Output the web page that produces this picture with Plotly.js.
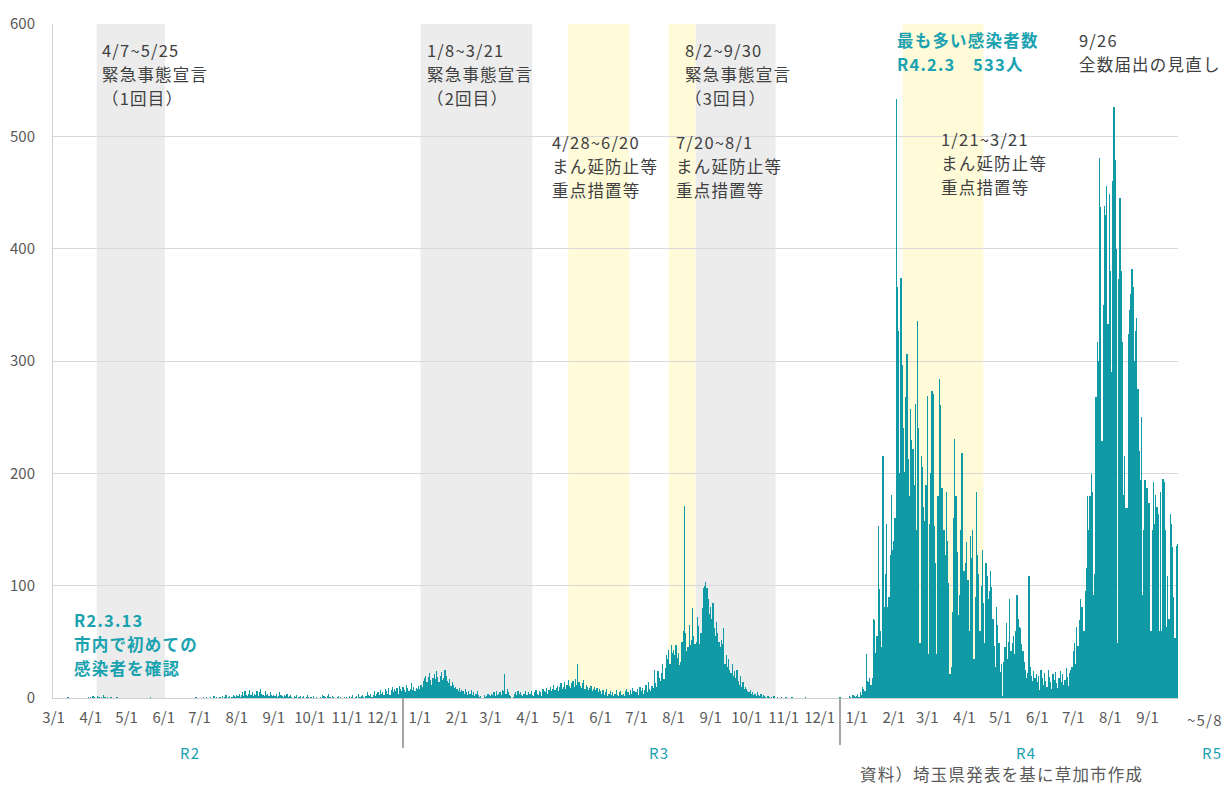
<!DOCTYPE html>
<html>
<head>
<meta charset="utf-8">
<script src="https://cdn.plot.ly/plotly-3.0.1.min.js"></script>
<style>
  html, body { margin: 0; padding: 0; background: #ffffff; }
  #chart { width: 1229px; height: 787px; }
  .annotation-text { letter-spacing: 1.2px; }
</style>
</head>
<body>
<div id="chart"></div>
<script>
// ---- daily new cases, one array per month ----
const m2020_03 = [0,0,0,0,0,0,0,0,0,0, 0,0,1,0,0,0,0,0,0,0, 0,0,0,0,0,0,0,0,0,1, 0];
const m2020_04 = [1,0,2,1,0,0,2,1,0,1, 0,3,1,0,1,0,0,1,0,0, 0,0,1,0,0,0,0,0,0,0];
const m2020_05 = [0,0,0,0,0,0,0,0,0,0, 0,0,0,0,0,0,0,0,0,0, 1,0,0,0,0,0,0,0,0,0, 0];
const m2020_06 = [0,0,0,0,0,0,0,0,0,0, 0,0,0,0,0,0,0,0,0,0, 0,0,0,0,0,0,0,1,0,0];
const m2020_07 = [0,0,0,1,0,0,1,0,0,1, 0,0,2,0,1,0,0,1,0,2, 0,1,3,0,1,2,0,1,3,2, 1];
const m2020_08 = [3,2,4,1,3,5,2,6,3,2, 4,7,3,5,2,4,3,6,2,5, 8,4,3,2,6,3,4,2,5,3, 2];
const m2020_09 = [3,2,4,1,2,5,3,2,1,3, 2,4,1,2,3,1,0,2,1,3, 0,1,2,0,1,2,0,1,3,1];
const m2020_10 = [0,1,0,2,0,0,1,0,0,1, 0,3,2,1,0,2,4,1,0,2, 1,0,0,1,2,0,1,0,0,1, 0];
const m2020_11 = [1,0,2,0,1,3,0,1,2,0, 4,1,2,3,1,0,2,5,3,2, 4,1,3,6,2,4,5,3,7,4];
const m2020_12 = [5,3,8,6,4,9,3,7,10,5, 8,6,9,4,11,8,6,10,7,5, 12,9,6,8,13,7,10,6,9,8, 11];
const m2021_01 = [8,12,10,15,18,20,14,19,22,16, 12,18,21,17,24,19,14,20,23,16, 18,25,20,15,13,17,11,14,12,9, 10];
const m2021_02 = [8,6,9,5,7,6,4,8,5,3, 6,4,7,3,5,2,4,6,3,1, 2,0,0,3,1,2,4,3];
const m2021_03 = [2,4,3,5,2,6,3,4,5,3, 7,6,21,4,8,5,3,2,0,1, 4,5,3,6,4,5,3,2,4,6, 3];
const m2021_04 = [3,5,4,6,3,2,5,7,4,3, 6,5,2,8,6,5,9,4,7,10, 6,8,12,7,9,11,6,10,13,8];
const m2021_05 = [10,14,8,12,16,11,9,13,15,10, 17,12,30,14,11,9,13,16,8,12, 10,7,9,11,6,8,10,7,9,5, 8];
const m2021_06 = [6,4,7,3,5,8,2,4,6,3, 5,2,4,7,3,2,5,6,3,4, 2,6,8,5,3,7,4,9,6,5];
const m2021_07 = [5,8,3,10,6,9,4,7,12,5, 14,8,6,11,9,25,13,10,24,18, 15,22,30,17,27,38,35,43,30,47, 40];
const m2021_08 = [43,38,47,36,40,29,32,50,60,171, 58,42,45,65,47,52,80,55,48,50, 72,64,48,58,80,98,100,103,98,88, 75];
const m2021_09 = [81,70,85,62,55,68,58,50,45,52, 48,62,30,38,28,35,25,22,30,20, 24,18,25,15,12,20,10,14,8,10];
const m2021_10 = [8,6,5,7,4,5,3,4,2,5, 3,2,4,1,3,2,1,0,2,1, 0,1,0,2,0,0,1,0,0,1, 0];
const m2021_11 = [0,0,1,0,0,0,0,1,0,0, 0,0,0,0,0,0,0,0,1,0, 0,0,0,0,0,0,0,0,0,0];
const m2021_12 = [0,0,0,0,0,0,0,0,0,0, 0,0,0,0,0,0,0,1,0,0, 0,0,0,0,0,2,1,0,3,2, 1];
const m2022_01 = [2,4,1,5,3,10,8,6,39,15, 14,18,12,18,70,69,40,55,153,97, 60,45,215,81,110,155,81,90,127,181, 132];
const m2022_02 = [140,160,533,366,327,200,374,296,240,201, 268,306,213,180,257,230,222,190,262,150, 336,240,49,215,206,170,158,190];
const m2022_03 = [269,39,155,200,273,271,153,120,39,180, 284,261,187,187,150,127,183,140,102,21, 28,77,160,231,180,130,74,92,150,218, 113];
const m2022_04 = [113,120,139,105,60,144,125,150,35,90, 183,127,110,60,100,132,85,49,120,109, 88,95,113,99,70,46,28,81,65,49];
const m2022_05 = [23,30,2,32,45,67,35,50,88,42, 49,55,39,60,92,70,63,62,48,42, 32,25,18,22,109,28,20,15,24,18, 21];
const m2022_06 = [14,20,7,25,18,12,22,15,10,25, 19,14,8,21,16,23,13,9,18,24, 14,21,12,16,27,19,11,22,25,28];
const m2022_07 = [42,49,30,63,46,69,88,81,81,60, 95,116,180,150,180,199,183,92,110,268, 317,300,481,437,229,350,438,430,456,333, 449];
const m2022_08 = [380,290,460,526,479,400,49,373,445,380, 317,181,215,169,169,324,345,360,382,366, 300,327,338,275,220,194,250,92,150,194, 187];
const m2022_09 = [187,174,174,60,150,192,155,181,170,164, 60,183,60,195,192,150,63,109,70,164, 155,134,90,53,135,137];

const monthKeys = ['2020-03','2020-04','2020-05','2020-06','2020-07','2020-08','2020-09','2020-10','2020-11','2020-12',
  '2021-01','2021-02','2021-03','2021-04','2021-05','2021-06','2021-07','2021-08','2021-09','2021-10','2021-11','2021-12',
  '2022-01','2022-02','2022-03','2022-04','2022-05','2022-06','2022-07','2022-08','2022-09'];
const monthValues = [m2020_03,m2020_04,m2020_05,m2020_06,m2020_07,m2020_08,m2020_09,m2020_10,m2020_11,m2020_12,
  m2021_01,m2021_02,m2021_03,m2021_04,m2021_05,m2021_06,m2021_07,m2021_08,m2021_09,m2021_10,m2021_11,m2021_12,
  m2022_01,m2022_02,m2022_03,m2022_04,m2022_05,m2022_06,m2022_07,m2022_08,m2022_09];

// ---- x tick labels ----
const tickDates = monthKeys.map(k => k + '-01');
const tickText = ['3/1','4/1','5/1','6/1','7/1','8/1','9/1','10/1','11/1','12/1',
  '1/1','2/1','3/1','4/1','5/1','6/1','7/1','8/1','9/1','10/1','11/1','12/1',
  '1/1','2/1','3/1','4/1','5/1','6/1','7/1','8/1','9/1'];

// ---- shaded periods (as drawn in the picture) ----
const grayPeriods = [['2020-04-06','2020-06-02'], ['2021-01-01 14:00','2021-04-05'], ['2021-08-19 08:00','2021-10-25 05:00']];
const yellowPeriods = [['2021-05-05','2021-06-25'], ['2021-07-27 19:00','2021-08-19 08:00'], ['2022-02-08 08:00','2022-04-17']];

// ---- build daily series ----
const dates = [], cases = [];
monthKeys.forEach((k, i) => {
  monthValues[i].forEach((v, d) => {
    dates.push(k + '-' + String(d + 1).padStart(2, '0'));
    cases.push(v);
  });
});

const TEAL = '#109aa6';
const TEXT_TEAL = '#1aa2b0';
const DARK = '#404040';
const GREY = '#595959';
const FONT = '"Noto Sans CJK JP", "Noto Sans", sans-serif';

// pixel helpers for annotation placement (plot area 53..1178 x 24..698)
const px = x => (x - 53) / 1125;
const py = y => (698 - y) / 674;

const shapes = [];
grayPeriods.forEach(p => shapes.push({type:'rect', xref:'x', yref:'paper', x0:p[0], x1:p[1], y0:0, y1:1,
  fillcolor:'#ececec', line:{width:0}, layer:'below'}));
yellowPeriods.forEach(p => shapes.push({type:'rect', xref:'x', yref:'paper', x0:p[0], x1:p[1], y0:0, y1:1,
  fillcolor:'#fffbd9', line:{width:0}, layer:'below'}));
shapes.push({type:'line', xref:'paper', yref:'paper', x0:px(403), x1:px(403), y0:0, y1:py(748), line:{color:'#a6a6a6', width:2}});
shapes.push({type:'line', xref:'paper', yref:'paper', x0:px(840), x1:px(840), y0:0, y1:py(745), line:{color:'#a6a6a6', width:2}});

function note(text, x, y, color, size, bold, anchor) {
  return {text: bold ? '<b>' + text + '</b>' : text, xref:'paper', yref:'paper', x:px(x), y:py(y),
    xanchor: anchor || 'left', yanchor:'middle', align:'left', showarrow:false,
    font:{family:FONT, size:size, color:color}};
}
// multi-line block: one annotation per line, 24 px apart, centred on y
function block(lines, x, yc, color, bold) {
  const n = lines.length;
  return lines.map((t, i) => note(t, x, yc + (i - (n - 1) / 2) * 24, color, 16.5, bold));
}

const annotations = [].concat(
  block(['4/7~5/25', '緊急事態宣言', '（1回目）'], 100, 74, DARK),
  block(['1/8~3/21', '緊急事態宣言', '（2回目）'], 425, 74, DARK),
  block(['8/2~9/30', '緊急事態宣言', '（3回目）'], 683, 74, DARK),
  block(['4/28~6/20', 'まん延防止等', '重点措置等'], 550, 166, DARK),
  block(['7/20~8/1', 'まん延防止等', '重点措置等'], 674, 166, DARK),
  block(['1/21~3/21', 'まん延防止等', '重点措置等'], 939, 163, DARK),
  block(['最も多い感染者数', 'R4.2.3　533人'], 895, 52, TEXT_TEAL, true),
  block(['9/26', '全数届出の見直し'], 1077, 52, DARK),
  block(['R2.3.13', '市内で初めての', '感染者を確認'], 72, 644, TEXT_TEAL, true),
  [
    note('~5/8', 1205, 720, GREY, 15, false, 'center'),
    note('R2', 190, 752, TEXT_TEAL, 15, false, 'center'),
    note('R3', 659, 752, TEXT_TEAL, 15, false, 'center'),
    note('R4', 1026, 752, TEXT_TEAL, 15, false, 'center'),
    note('R5', 1212, 752, TEXT_TEAL, 15, false, 'center'),
    note('資料）埼玉県発表を基に草加市作成', 858, 774, GREY, 16.5)
  ]
);

const trace = {type:'bar', x:dates, y:cases, marker:{color:TEAL, line:{width:0}}, hoverinfo:'x+y'};

const layout = {
  width:1229, height:787,
  margin:{l:53, r:51, t:24, b:89},
  paper_bgcolor:'#ffffff', plot_bgcolor:'rgba(0,0,0,0)',
  bargap:0,
  showlegend:false,
  font:{family:FONT, color:GREY},
  xaxis:{type:'date', range:['2020-02-29 12:00','2022-09-26 12:00'], tickmode:'array',
    tickvals:tickDates, ticktext:tickText, showgrid:false, zeroline:false,
    showline:true, linecolor:'#d0d0d0', linewidth:1, ticks:'',
    ticklabelstandoff:6,
    tickfont:{family:FONT, size:15, color:GREY}, tickangle:0},
  yaxis:{range:[0,600], dtick:100, showgrid:true, gridcolor:'#d9d9d9', gridwidth:1,
    zeroline:false, showline:true, linecolor:'#d0d0d0', ticks:'',
    ticklabelstandoff:14, tickfont:{family:FONT, size:15, color:GREY}},
  shapes:shapes,
  annotations:annotations
};

Plotly.newPlot('chart', [trace], layout, {displayModeBar:false, staticPlot:true});
</script>
</body>
</html>
